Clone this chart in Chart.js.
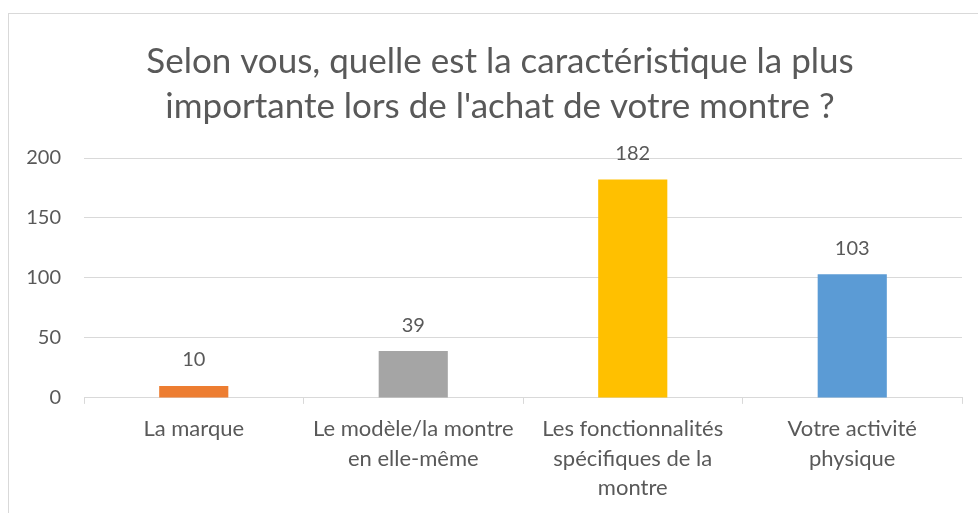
<!DOCTYPE html>
<html>
<head>
<meta charset="utf-8">
<script src="https://cdn.jsdelivr.net/npm/chart.js@4/dist/chart.umd.min.js"></script>
<style>
    html, body { margin: 0; padding: 0; background: #fff; overflow: hidden; }
    #frame {
        position: absolute; left: 8px; top: 13px; width: 978px; height: 520px;
        border-left: 1px solid #d9d9d9; border-top: 1px solid #d9d9d9;
    }
    #chart { position: absolute; left: 0; top: 0; }
</style>
</head>
<body>
<div id="frame"></div>
<canvas id="chart" width="978" height="513"></canvas>
<script>
// Chart data
const titleLines = ['Selon vous, quelle est la caractéristique la plus', "importante lors de l'achat de votre montre ?"];
const categories = [
    ['La marque'],
    ['Le modèle/la montre', 'en elle-même'],
    ['Les fonctionnalités', 'spécifiques de la', 'montre'],
    ['Votre activité', 'physique']
];
const answers = [10, 39, 182, 103];
const barColors = ['#ED7D31', '#A5A5A5', '#FFC000', '#5B9BD5'];
const yTicks = [0, 50, 100, 150, 200];

const textColor = '#595959';
const gridColor = '#d9d9d9';
const fontFamily = 'Lato, "Open Sans", sans-serif';

// Title centred over the whole chart frame (frame starts at x=8)
const frameTitle = {
    id: 'frameTitle',
    afterDraw(chart) {
        const ctx = chart.ctx;
        ctx.save();
        ctx.font = '35px ' + fontFamily;
        ctx.fillStyle = textColor;
        ctx.textAlign = 'center';
        ctx.textBaseline = 'middle';
        titleLines.forEach((line, i) => {
            ctx.fillText(line, 500, 61.5 + i * 45);
        });
        ctx.restore();
    }
};

// Value labels above each bar
const valueLabels = {
    id: 'valueLabels',
    afterDatasetsDraw(chart) {
        const ctx = chart.ctx;
        ctx.save();
        ctx.font = '20px ' + fontFamily;
        ctx.fillStyle = textColor;
        ctx.textAlign = 'center';
        ctx.textBaseline = 'middle';
        chart.getDatasetMeta(0).data.forEach((bar, i) => {
            ctx.fillText(answers[i], bar.x, bar.y - 26);
        });
        ctx.restore();
    }
};

new Chart(document.getElementById('chart'), {
    type: 'bar',
    data: {
        labels: categories,
        datasets: [{
            data: answers,
            backgroundColor: barColors,
            categoryPercentage: 1,
            barPercentage: 0.315
        }]
    },
    options: {
        responsive: false,
        animation: false,
        layout: { padding: { left: 20, right: 16, top: 158, bottom: 0 } },
        plugins: {
            legend: { display: false },
            tooltip: { enabled: false },
            title: { display: false }
        },
        scales: {
            y: {
                min: 0,
                max: 200,
                afterBuildTicks(axis) { axis.ticks = yTicks.map(v => ({ value: v })); },
                afterFit(axis) { axis.width = 64; },
                grid: { color: gridColor, drawTicks: false },
                border: { display: false },
                ticks: { color: textColor, padding: 23, font: { family: fontFamily, size: 20 } }
            },
            x: {
                grid: { color: gridColor, drawOnChartArea: false, tickLength: 6, offset: true },
                border: { color: gridColor },
                ticks: { color: textColor, maxRotation: 0, padding: 11, font: { family: fontFamily, size: 22, lineHeight: 1.32 } }
            }
        }
    },
    plugins: [valueLabels, frameTitle]
});
</script>
</body>
</html>
